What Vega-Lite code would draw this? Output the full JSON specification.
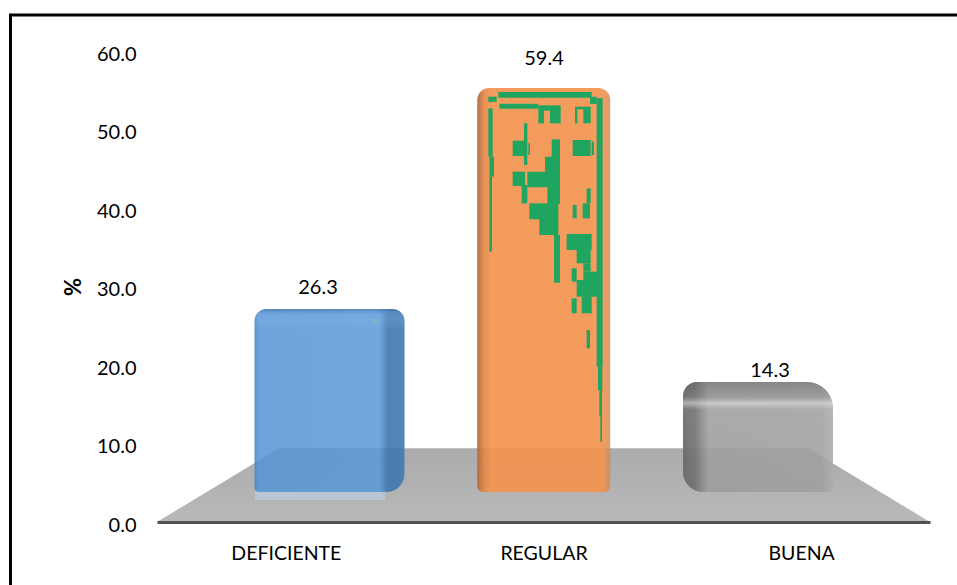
{
  "$schema": "https://vega.github.io/schema/vega-lite/v6.json",
  "width": 773,
  "height": 471,
  "padding": {"left": 157, "top": 51, "right": 27, "bottom": 63},
  "autosize": "none",
  "background": "white",
  "config": {"view": {"stroke": null}, "font": "Lato"},
  "datasets": {
    "ratings": [
      {"categoria": "DEFICIENTE", "pct": 26.3},
      {"categoria": "REGULAR", "pct": 59.4},
      {"categoria": "BUENA", "pct": 14.3}
    ],
    "floor": [
      {"span": 0, "rise": 0},
      {"span": 15.8, "rise": 9.4},
      {"span": 84.2, "rise": 9.4},
      {"span": 100, "rise": 0}
    ],
    "speckle": [
      {"c0": 85, "c1": 365, "r0": 36, "r1": 53},
      {"c0": 55, "c1": 80, "r0": 50, "r1": 66},
      {"c0": 360, "c1": 380, "r0": 50, "r1": 72},
      {"c0": 88, "c1": 205, "r0": 71, "r1": 86},
      {"c0": 205, "c1": 272, "r0": 76, "r1": 92},
      {"c0": 205, "c1": 222, "r0": 90, "r1": 130},
      {"c0": 240, "c1": 272, "r0": 90, "r1": 130},
      {"c0": 315, "c1": 322, "r0": 85, "r1": 130},
      {"c0": 340, "c1": 362, "r0": 85, "r1": 130},
      {"c0": 315, "c1": 362, "r0": 80, "r1": 88},
      {"c0": 380, "c1": 398, "r0": 55, "r1": 860},
      {"c0": 384, "c1": 397, "r0": 860, "r1": 930},
      {"c0": 388, "c1": 396, "r0": 930, "r1": 1010},
      {"c0": 391, "c1": 396, "r0": 1010, "r1": 1085},
      {"c0": 55, "c1": 68, "r0": 85, "r1": 230},
      {"c0": 58, "c1": 72, "r0": 230, "r1": 290},
      {"c0": 58, "c1": 66, "r0": 290, "r1": 515},
      {"c0": 128, "c1": 162, "r0": 182, "r1": 228},
      {"c0": 162, "c1": 172, "r0": 130, "r1": 255},
      {"c0": 175, "c1": 180, "r0": 190, "r1": 225},
      {"c0": 245, "c1": 270, "r0": 178, "r1": 232},
      {"c0": 225, "c1": 270, "r0": 230, "r1": 280},
      {"c0": 308, "c1": 362, "r0": 180, "r1": 228},
      {"c0": 365, "c1": 372, "r0": 185, "r1": 225},
      {"c0": 128, "c1": 165, "r0": 275, "r1": 318},
      {"c0": 172, "c1": 270, "r0": 275, "r1": 322},
      {"c0": 155, "c1": 172, "r0": 315, "r1": 370},
      {"c0": 232, "c1": 270, "r0": 320, "r1": 372},
      {"c0": 178, "c1": 265, "r0": 370, "r1": 418},
      {"c0": 208, "c1": 265, "r0": 415, "r1": 465},
      {"c0": 252, "c1": 270, "r0": 465, "r1": 608},
      {"c0": 350, "c1": 362, "r0": 325, "r1": 370},
      {"c0": 338, "c1": 360, "r0": 370, "r1": 415},
      {"c0": 308, "c1": 320, "r0": 375, "r1": 415},
      {"c0": 290, "c1": 365, "r0": 462, "r1": 510},
      {"c0": 320, "c1": 362, "r0": 510, "r1": 550},
      {"c0": 340, "c1": 362, "r0": 550, "r1": 575},
      {"c0": 305, "c1": 320, "r0": 565, "r1": 605},
      {"c0": 340, "c1": 385, "r0": 575, "r1": 650},
      {"c0": 320, "c1": 362, "r0": 600, "r1": 650},
      {"c0": 305, "c1": 320, "r0": 655, "r1": 700},
      {"c0": 335, "c1": 365, "r0": 650, "r1": 700},
      {"c0": 350, "c1": 360, "r0": 750, "r1": 805}
    ],
    "fleck": [{"c0": -290, "c1": -278, "r0": 716, "r1": 730}],
    "sheen": [{"c0": -645, "c1": -255, "r0": 1230, "r1": 1260}],
    "frame": [{"left": 0, "right": 100, "top": 100, "bottom": 0}]
  },
  "layer": [
    {
      "description": "Top and left rules of the chart frame; the other two sides run off the page",
      "data": {"name": "frame"},
      "mark": {"type": "rect", "fill": null, "stroke": "#000000", "strokeWidth": 3, "clip": false},
      "encoding": {
        "x": {"field": "left", "type": "quantitative", "axis": null, "scale": {"domain": [0, 100], "range": [-146.5, 850]}},
        "x2": {"field": "right"},
        "y": {"field": "top", "type": "quantitative", "axis": null, "scale": {"domain": [0, 100], "range": [600, -36]}},
        "y2": {"field": "bottom"}
      }
    },
    {
      "description": "Grey perspective floor, and the percentage axis",
      "data": {"name": "floor"},
      "mark": {
        "type": "area",
        "color": {"gradient": "linear", "x1": 0, "y1": 0, "x2": 0, "y2": 1, "stops": [
          {"offset": 0, "color": "#ababab"},
          {"offset": 0.6, "color": "#b3b3b3"},
          {"offset": 1, "color": "#b9b9b9"}
        ]}
      },
      "encoding": {
        "x": {"field": "span", "type": "quantitative", "axis": null, "scale": {"domain": [0, 100]}},
        "y": {
          "field": "rise",
          "type": "quantitative",
          "stack": null,
          "scale": {"domain": [0, 60], "nice": false},
          "axis": {
            "title": "%",
            "titleFontSize": 22,
            "titleFontWeight": "bold",
            "titleFont": "Lato",
            "titleColor": "#000000",
            "titlePadding": 11,
            "values": [0, 10, 20, 30, 40, 50, 60],
            "format": ".1f",
            "domain": false,
            "ticks": false,
            "grid": false,
            "labelFont": "Lato",
            "labelFontSize": 20,
            "labelColor": "#000000",
            "labelPadding": 21,
            "labelOffset": 3
          }
        }
      }
    },
    {
      "description": "Category axis",
      "data": {"name": "ratings"},
      "mark": {"type": "point", "opacity": 0},
      "encoding": {
        "x": {
          "field": "categoria",
          "type": "nominal",
          "scale": {"domain": ["DEFICIENTE", "REGULAR", "BUENA"]},
          "axis": {
            "title": null,
            "labelAngle": 0,
            "labelFont": "Lato",
            "labelFontSize": 19.5,
            "labelColor": "#000000",
            "labelPadding": 22,
            "ticks": false,
            "domainColor": "#525252",
            "domainWidth": 3,
            "grid": false,
            "zindex": 1
          }
        }
      }
    },
    {
      "description": "Pale reflection on the floor under the DEFICIENTE column",
      "data": {"name": "sheen"},
      "mark": {"type": "rect", "color": "#bac6d4"},
      "encoding": {
        "x": {"field": "c0", "type": "quantitative", "axis": null, "scale": {"domain": [0, 450], "range": [313, 463]}},
        "x2": {"field": "c1"},
        "y": {"field": "r0", "type": "quantitative", "axis": null, "scale": {"domain": [0, 1260], "range": [29, 449]}},
        "y2": {"field": "r1"}
      }
    },
    {
      "description": "DEFICIENTE column body",
      "data": {"name": "ratings"},
      "transform": [{"filter": "datum.categoria === 'DEFICIENTE'"}],
      "mark": {
        "type": "bar",
        "width": 150,
        "cornerRadiusTopLeft": 12,
        "cornerRadiusTopRight": 12,
        "cornerRadiusBottomLeft": 4,
        "cornerRadiusBottomRight": 18,
        "color": {"gradient": "linear", "x1": 0, "y1": 0, "x2": 1, "y2": 0, "stops": [
          {"offset": 0, "color": "rgba(70,135,200,0.9)"},
          {"offset": 0.03, "color": "rgba(84,148,212,0.86)"},
          {"offset": 0.83, "color": "rgba(88,152,216,0.86)"},
          {"offset": 0.89, "color": "rgba(62,118,176,0.9)"},
          {"offset": 1, "color": "rgba(68,122,178,0.92)"}
        ]}
      },
      "encoding": {
        "x": {"field": "categoria", "type": "nominal", "axis": null, "scale": {"type": "point", "domain": ["DEFICIENTE", "REGULAR", "BUENA"], "range": [172.5, 601], "padding": 0}},
        "y": {"field": "pct", "type": "quantitative", "axis": null, "stack": null, "scale": {"domain": [0, 14.3, 26.3, 59.4], "range": [441, 331, 258, 37]}}
      }
    },
    {
      "description": "DEFICIENTE column top bevel",
      "data": {"name": "ratings"},
      "transform": [{"filter": "datum.categoria === 'DEFICIENTE'"}],
      "mark": {
        "type": "bar",
        "width": 150,
        "cornerRadiusTopLeft": 12,
        "cornerRadiusTopRight": 12,
        "cornerRadiusBottomLeft": 4,
        "cornerRadiusBottomRight": 18,
        "color": {"gradient": "linear", "x1": 0, "y1": 0, "x2": 0, "y2": 1, "stops": [
          {"offset": 0, "color": "rgba(55,105,160,0.55)"},
          {"offset": 0.03, "color": "rgba(120,170,225,0.25)"},
          {"offset": 0.06, "color": "rgba(140,190,240,0.2)"},
          {"offset": 0.12, "color": "rgba(140,190,240,0)"},
          {"offset": 1, "color": "rgba(140,190,240,0)"}
        ]}
      },
      "encoding": {
        "x": {"field": "categoria", "type": "nominal", "axis": null, "scale": {"type": "point", "domain": ["DEFICIENTE", "REGULAR", "BUENA"], "range": [172.5, 601], "padding": 0}},
        "y": {"field": "pct", "type": "quantitative", "axis": null, "stack": null, "scale": {"domain": [0, 14.3, 26.3, 59.4], "range": [441, 331, 258, 37]}}
      }
    },
    {
      "description": "REGULAR column body",
      "data": {"name": "ratings"},
      "transform": [{"filter": "datum.categoria === 'REGULAR'"}],
      "mark": {
        "type": "bar",
        "width": 133,
        "cornerRadiusTopLeft": 12,
        "cornerRadiusTopRight": 12,
        "cornerRadiusBottomLeft": 6,
        "cornerRadiusBottomRight": 6,
        "color": {"gradient": "linear", "x1": 0, "y1": 0, "x2": 1, "y2": 0, "stops": [
          {"offset": 0, "color": "rgba(170,105,60,0.94)"},
          {"offset": 0.05, "color": "rgba(228,135,72,0.92)"},
          {"offset": 0.1, "color": "rgba(243,147,79,0.92)"},
          {"offset": 0.95, "color": "rgba(243,147,79,0.92)"},
          {"offset": 1, "color": "rgba(205,135,95,0.8)"}
        ]}
      },
      "encoding": {
        "x": {"field": "categoria", "type": "nominal", "axis": null, "scale": {"type": "point", "domain": ["DEFICIENTE", "REGULAR", "BUENA"], "range": [172.5, 601], "padding": 0}},
        "y": {"field": "pct", "type": "quantitative", "axis": null, "stack": null, "scale": {"domain": [0, 14.3, 26.3, 59.4], "range": [441, 331, 258, 37]}}
      }
    },
    {
      "description": "BUENA column body",
      "data": {"name": "ratings"},
      "transform": [{"filter": "datum.categoria === 'BUENA'"}],
      "mark": {
        "type": "bar",
        "width": 150,
        "cornerRadiusTopLeft": 14,
        "cornerRadiusTopRight": 26,
        "cornerRadiusBottomLeft": 20,
        "cornerRadiusBottomRight": 4,
        "color": {"gradient": "linear", "x1": 0, "y1": 0, "x2": 1, "y2": 0, "stops": [
          {"offset": 0, "color": "rgba(105,105,105,0.95)"},
          {"offset": 0.08, "color": "rgba(115,115,115,0.95)"},
          {"offset": 0.17, "color": "rgba(157,157,157,0.9)"},
          {"offset": 0.92, "color": "rgba(159,159,159,0.9)"},
          {"offset": 1, "color": "rgba(172,172,172,0.9)"}
        ]}
      },
      "encoding": {
        "x": {"field": "categoria", "type": "nominal", "axis": null, "scale": {"type": "point", "domain": ["DEFICIENTE", "REGULAR", "BUENA"], "range": [172.5, 601], "padding": 0}},
        "y": {"field": "pct", "type": "quantitative", "axis": null, "stack": null, "scale": {"domain": [0, 14.3, 26.3, 59.4], "range": [441, 331, 258, 37]}}
      }
    },
    {
      "description": "BUENA column top bevel",
      "data": {"name": "ratings"},
      "transform": [{"filter": "datum.categoria === 'BUENA'"}],
      "mark": {
        "type": "bar",
        "width": 150,
        "cornerRadiusTopLeft": 14,
        "cornerRadiusTopRight": 26,
        "cornerRadiusBottomLeft": 20,
        "cornerRadiusBottomRight": 4,
        "color": {"gradient": "linear", "x1": 0, "y1": 0, "x2": 0, "y2": 1, "stops": [
          {"offset": 0, "color": "rgba(95,95,95,0.45)"},
          {"offset": 0.12, "color": "rgba(110,110,110,0.25)"},
          {"offset": 0.19, "color": "rgba(230,230,230,0.55)"},
          {"offset": 0.25, "color": "rgba(230,230,230,0.05)"},
          {"offset": 1, "color": "rgba(230,230,230,0)"}
        ]}
      },
      "encoding": {
        "x": {"field": "categoria", "type": "nominal", "axis": null, "scale": {"type": "point", "domain": ["DEFICIENTE", "REGULAR", "BUENA"], "range": [172.5, 601], "padding": 0}},
        "y": {"field": "pct", "type": "quantitative", "axis": null, "stack": null, "scale": {"domain": [0, 14.3, 26.3, 59.4], "range": [441, 331, 258, 37]}}
      }
    },
    {
      "description": "Green speckle on the REGULAR column",
      "data": {"name": "speckle"},
      "mark": {"type": "rect", "color": "#20a561"},
      "encoding": {
        "x": {"field": "c0", "type": "quantitative", "axis": null, "scale": {"domain": [0, 450], "range": [313, 463]}},
        "x2": {"field": "c1"},
        "y": {"field": "r0", "type": "quantitative", "axis": null, "scale": {"domain": [0, 1260], "range": [29, 449]}},
        "y2": {"field": "r1"}
      }
    },
    {
      "description": "Faint green fleck on the DEFICIENTE column",
      "data": {"name": "fleck"},
      "mark": {"type": "rect", "color": "#7ec8a0", "opacity": 0.7, "cornerRadius": 3},
      "encoding": {
        "x": {"field": "c0", "type": "quantitative", "axis": null, "scale": {"domain": [0, 450], "range": [313, 463]}},
        "x2": {"field": "c1"},
        "y": {"field": "r0", "type": "quantitative", "axis": null, "scale": {"domain": [0, 1260], "range": [29, 449]}},
        "y2": {"field": "r1"}
      }
    },
    {
      "description": "Value labels above the columns",
      "data": {"name": "ratings"},
      "mark": {"type": "text", "font": "Lato", "fontSize": 20, "color": "#000000", "baseline": "middle", "align": "center"},
      "encoding": {
        "x": {"field": "categoria", "type": "nominal", "axis": null, "scale": {"type": "point", "domain": ["DEFICIENTE", "REGULAR", "BUENA"], "range": [161, 613], "padding": 0}},
        "y": {"field": "pct", "type": "quantitative", "axis": null, "scale": {"domain": [14.3, 26.3, 59.4], "range": [320, 237, 8]}},
        "text": {"field": "pct", "type": "quantitative", "format": ".1f"}
      }
    }
  ],
  "resolve": {"scale": {"x": "independent", "y": "independent"}}
}
